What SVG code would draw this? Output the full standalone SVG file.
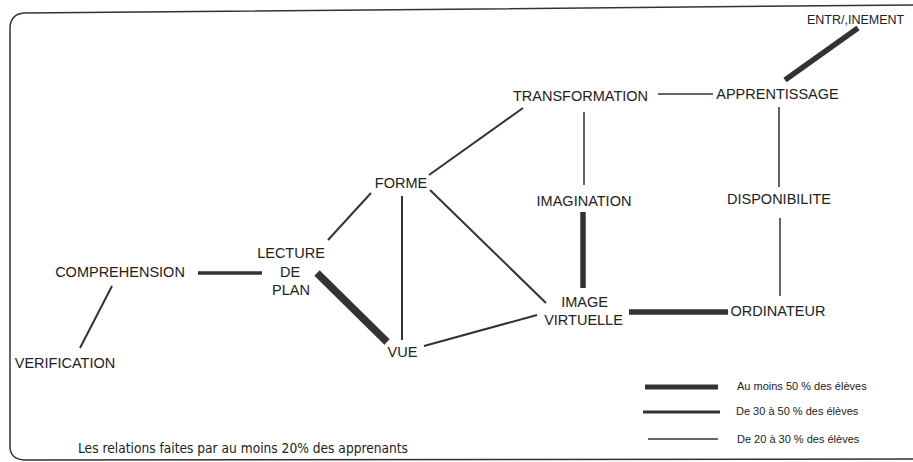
<svg xmlns="http://www.w3.org/2000/svg" width="913" height="462" viewBox="0 0 913 462">
<style>
.t{font-family:"Liberation Sans",Arial,sans-serif;font-size:14.5px;fill:#222;text-anchor:middle}
.lg{font-family:"Liberation Sans",Arial,sans-serif;font-size:11px;fill:#222}
.c{stroke:#333;fill:none;stroke-linecap:butt}
.w1{stroke-width:1.5}
.w2{stroke-width:2}
.w3{stroke-width:3.5}
.w5{stroke-width:5.5}
.w7{stroke-width:7.5}
</style>
<rect width="913" height="462" fill="#fff"/>
<g id="frame" fill="none" stroke="#333" stroke-width="1.5">
<path d="M913 5 L24 13 Q11 14 10 27 L10 448 Q11 459 24 460 L913 459"/>
</g>
<g id="connectors">
<line class="c w7" x1="317" y1="273" x2="387" y2="342"/>
<line class="c w5" x1="785" y1="80" x2="858" y2="28"/>
<line class="c w5" x1="583" y1="212" x2="583" y2="288"/>
<line class="c w5" x1="629" y1="312" x2="728" y2="312"/>
<line class="c w3" x1="198" y1="273" x2="262" y2="273"/>
<line class="c w2" x1="112" y1="286" x2="80" y2="348"/>
<line class="c w2" x1="371" y1="193" x2="328" y2="240"/>
<line class="c w2" x1="429" y1="175" x2="523" y2="108"/>
<line class="c w2" x1="402" y1="196" x2="402" y2="340"/>
<line class="c w2" x1="430" y1="190" x2="546" y2="303"/>
<line class="c w2" x1="424" y1="346" x2="537" y2="315"/>
<line class="c w1" x1="658" y1="94" x2="713" y2="94"/>
<line class="c w1" x1="584" y1="112" x2="584" y2="185"/>
<line class="c w1" x1="779" y1="107" x2="779" y2="187"/>
<line class="c w1" x1="780" y1="218" x2="780" y2="296"/>
</g>
<g id="n-entrainement"><text class="t" x="807" y="24" style="text-anchor:start;font-size:12.5px">ENTR/,INEMENT</text></g>
<g id="n-apprentissage"><text class="t" x="777.5" y="99">APPRENTISSAGE</text></g>
<g id="n-transformation"><text class="t" x="580.5" y="101">TRANSFORMATION</text></g>
<g id="n-imagination"><text class="t" x="584" y="206">IMAGINATION</text></g>
<g id="n-disponibilite"><text class="t" x="779" y="204">DISPONIBILITE</text></g>
<g id="n-forme"><text class="t" x="401" y="188">FORME</text></g>
<g id="n-lecture"><text class="t" x="291" y="258">LECTURE</text><text class="t" x="290" y="277">DE</text><text class="t" x="291" y="295">PLAN</text></g>
<g id="n-comprehension"><text class="t" x="120" y="277">COMPREHENSION</text></g>
<g id="n-verification"><text class="t" x="65" y="368">VERIFICATION</text></g>
<g id="n-vue"><text class="t" x="402.5" y="357">VUE</text></g>
<g id="n-image"><text class="t" x="584.5" y="307">IMAGE</text><text class="t" x="583.5" y="325">VIRTUELLE</text></g>
<g id="n-ordinateur"><text class="t" x="778" y="316">ORDINATEUR</text></g>
<g id="legend">
<line class="c" stroke-width="5" x1="645" y1="387" x2="718" y2="387"/>
<text class="lg" x="737" y="390">Au moins 50 % des élèves</text>
<line class="c" stroke-width="3" x1="643" y1="412" x2="720" y2="412"/>
<text class="lg" x="736" y="415">De 30 à 50 % des élèves</text>
<line class="c" stroke-width="1.5" x1="648" y1="439" x2="718" y2="439"/>
<text class="lg" x="737" y="443">De 20 à 30 % des élèves</text>
</g>
<g id="caption"><text x="78" y="453" font-family="'DejaVu Sans',sans-serif" font-size="14.5" fill="#222" textLength="330" lengthAdjust="spacingAndGlyphs">Les relations faites par au moins 20% des apprenants</text></g>
</svg>
